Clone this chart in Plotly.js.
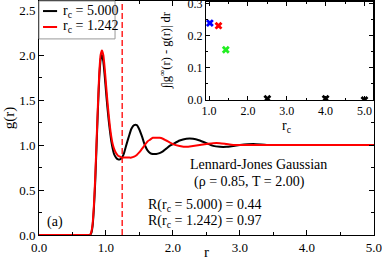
<!DOCTYPE html>
<html><head><meta charset="utf-8">
<script src="https://cdn.plot.ly/plotly-3.0.1.min.js"></script>
<style>html,body{margin:0;padding:0;background:#fff}#plot{width:382px;height:260px}</style>
</head><body><div id="plot"></div>
<script>
// ---- data ----
const rBlack = [0,0.7,0.76,0.78,0.80,0.82,0.84,0.86,0.88,0.90,0.92,0.94,0.96,0.98,1.00,1.02,1.04,1.06,1.08,1.10,1.12,1.15,1.18,1.21,1.24,1.27,1.30,1.34,1.38,1.42,1.46,1.50,1.54,1.58,1.62,1.66,1.70,1.75,1.80,1.85,1.90,1.95,2.0,2.1,2.2,2.3,2.4,2.5,2.6,2.7,2.8,2.9,3.0,3.2,3.4,3.6,3.8,4.0,4.5,5.0];
const gBlack = [0,0,0,0.02,0.1,0.3,0.6,1.0,1.4,1.75,1.95,2.0,1.93,1.78,1.6,1.43,1.28,1.15,1.04,0.96,0.9,0.86,0.84,0.84,0.86,0.91,0.99,1.09,1.18,1.22,1.22,1.17,1.09,1.0,0.94,0.91,0.9,0.9,0.91,0.93,0.96,0.99,1.01,1.05,1.07,1.07,1.05,1.02,0.99,0.98,0.98,0.99,1.0,1.01,1.0,1.0,1.0,1.0,1.0,1.0];
const rRed = [0,0.7,0.76,0.78,0.80,0.82,0.84,0.86,0.88,0.90,0.92,0.94,0.96,0.98,1.00,1.02,1.04,1.06,1.08,1.10,1.12,1.15,1.18,1.21,1.24,1.27,1.30,1.34,1.38,1.42,1.46,1.50,1.54,1.58,1.62,1.66,1.70,1.75,1.80,1.85,1.90,1.95,2.0,2.1,2.2,2.3,2.4,2.5,2.6,2.7,2.8,2.9,3.0,3.2,3.4,3.6,3.8,4.0,4.5,5.0];
const gRed = [0,0,0,0.03,0.12,0.33,0.65,1.05,1.45,1.8,2.0,2.05,2.0,1.86,1.68,1.5,1.34,1.2,1.09,1.01,0.96,0.91,0.88,0.87,0.86,0.86,0.86,0.86,0.86,0.87,0.89,0.92,0.96,1.0,1.04,1.06,1.08,1.08,1.08,1.07,1.05,1.03,1.01,0.99,0.98,0.99,1.0,1.01,1.02,1.02,1.01,1.0,1.0,1.0,1.0,1.0,1.0,1.0,1.0,1.0];
const seriesNames = ["r<sub>c</sub> = 5.000", "r<sub>c</sub> = 1.242"];
const cutoff = 1.242;
const dashY = [0, 2.6];
const insetRc = [1.02, 1.242, 1.43, 2.5, 4.0, 5.0];
const insetVal = [0.24, 0.232, 0.157, 0.004, 0.004, 0.0];
const insetColors = ["#0000ff", "#ff0000", "#22ee22", "#000000", "#000000", "#000000"];
const mainXTicks = [0,1,2,3,4,5];
const mainXLabels = ["0.0","1.0","2.0","3.0","4.0","5.0"];
const mainYTicks = [0,0.5,1,1.5,2,2.5];
const mainYLabels = ["0.0","0.5","1.0","1.5","2.0","2.5"];
const insetXTicks = [1,2,3,4,5];
const insetXLabels = ["1.0","2.0","3.0","4.0","5.0"];
const insetYTicks = [0,0.1,0.2,0.3];
const insetYLabels = ["0.0","0.1","0.2","0.3"];

const F = "Liberation Serif";

const traces = [
  {x: rBlack, y: gBlack, mode: "lines", line: {color: "#000", width: 2, shape: "spline", smoothing: 0.6}, showlegend: false, hoverinfo: "skip"},
  {x: [cutoff, cutoff], y: dashY, mode: "lines", line: {color: "#ff0000", width: 1.3, dash: "6px,3px"}, showlegend: false, hoverinfo: "skip"},
  {x: rRed, y: gRed, mode: "lines", line: {color: "#ff0000", width: 2, shape: "spline", smoothing: 0.6}, showlegend: false, hoverinfo: "skip"},
  {x: insetRc, y: insetVal, xaxis: "x2", yaxis: "y2", mode: "markers",
   marker: {symbol: "x", size: 7, color: insetColors, line: {width: 0}}, showlegend: false, hoverinfo: "skip"}
];

const axBase = {showgrid: false, zeroline: false, showline: true, linecolor: "#000", linewidth: 1,
  mirror: "ticks", ticks: "inside", tickcolor: "#000", ticklen: 5, tickwidth: 1,
  ticklabeloverflow: "allow",
  tickfont: {family: F, size: 13, color: "#000"}};

const layout = {
  width: 382, height: 260,
  margin: {l: 39, r: 8, t: 1, b: 25},
  paper_bgcolor: "#fff", plot_bgcolor: "#fff",
  font: {family: F, color: "#000"},
  xaxis: Object.assign({}, axBase, {range: [0, 5.002], tickvals: mainXTicks, ticktext: mainXLabels,
    minor: {dtick: 0.5, tick0: 0, ticks: "inside", ticklen: 3, tickcolor: "#000"},
    title: {text: "r", font: {family: F, size: 15}, standoff: 6}}),
  yaxis: Object.assign({}, axBase, {range: [0, 2.6], tickvals: mainYTicks, ticktext: mainYLabels,
    minor: {dtick: 0.25, tick0: 0, ticks: "inside", ticklen: 3, tickcolor: "#000"},
    title: {text: "g(r)", font: {family: F, size: 15}, standoff: 0}}),
  xaxis2: Object.assign({}, axBase, {domain: [0.4985, 0.997], anchor: "y2", range: [0.92, 5.22],
    tickvals: insetXTicks, ticktext: insetXLabels, ticklen: 4,
    tickfont: {family: F, size: 12, color: "#000"},
    minor: {dtick: 0.5, tick0: 0, ticks: "inside", ticklen: 2, tickcolor: "#000"}}),
  yaxis2: Object.assign({}, axBase, {domain: [0.577, 0.996], anchor: "x2", range: [0, 0.306],
    tickvals: insetYTicks, ticktext: insetYLabels, ticklen: 4, side: "left",
    tickfont: {family: F, size: 12, color: "#000"},
    minor: {dtick: 0.05, tick0: 0, ticks: "inside", ticklen: 2, tickcolor: "#000"}}),
  shapes: [
    {type: "rect", xref: "paper", yref: "paper", x0: 0, x1: 0.227, y0: 0.838, y1: 1,
     line: {color: "#999", width: 1}, fillcolor: "#fff", layer: "above"},
    {type: "line", xref: "paper", yref: "paper", x0: 0.012, x1: 0.054, y0: 0.957, y1: 0.957,
     line: {color: "#000", width: 2}},
    {type: "line", xref: "paper", yref: "paper", x0: 0.012, x1: 0.054, y0: 0.889, y1: 0.889,
     line: {color: "#ff0000", width: 2}}
  ],
  annotations: [
    {xref: "paper", yref: "paper", x: 0.066, y: 0.957, xanchor: "left", yanchor: "middle", showarrow: false,
     text: seriesNames[0], font: {family: F, size: 14}},
    {xref: "paper", yref: "paper", x: 0.066, y: 0.889, xanchor: "left", yanchor: "middle", showarrow: false,
     text: seriesNames[1], font: {family: F, size: 14}},
    {xref: "paper", yref: "paper", x: 0.376, y: 0.79, xanchor: "center", yanchor: "middle", showarrow: false,
     textangle: -90, text: "∫|g<sup>∞</sup>(r) - g(r)| dr", font: {family: F, size: 12.5}},
    {xref: "paper", yref: "paper", x: 0.74, y: 0.465, xanchor: "center", yanchor: "middle", showarrow: false,
     text: "r<sub>c</sub>", font: {family: F, size: 14}},
    {xref: "x", yref: "y", x: 3.27, y: 0.78, xanchor: "center", yanchor: "middle", showarrow: false,
     text: "Lennard-Jones Gaussian", font: {family: F, size: 14}},
    {xref: "x", yref: "y", x: 2.28, y: 0.59, xanchor: "left", yanchor: "middle", showarrow: false,
     text: "(ρ = 0.85, T = 2.00)", font: {family: F, size: 14}},
    {xref: "x", yref: "y", x: 1.6, y: 0.33, xanchor: "left", yanchor: "middle", showarrow: false,
     text: "R(r<sub>c</sub> = 5.000) = 0.44", font: {family: F, size: 14}},
    {xref: "x", yref: "y", x: 1.6, y: 0.15, xanchor: "left", yanchor: "middle", showarrow: false,
     text: "R(r<sub>c</sub> = 1.242) = 0.97", font: {family: F, size: 14}},
    {xref: "x", yref: "y", x: 0.24, y: 0.15, xanchor: "center", yanchor: "middle", showarrow: false,
     text: "(a)", font: {family: F, size: 14}}
  ]
};

Plotly.newPlot("plot", traces, layout, {staticPlot: true, displayModeBar: false});
</script></body></html>
